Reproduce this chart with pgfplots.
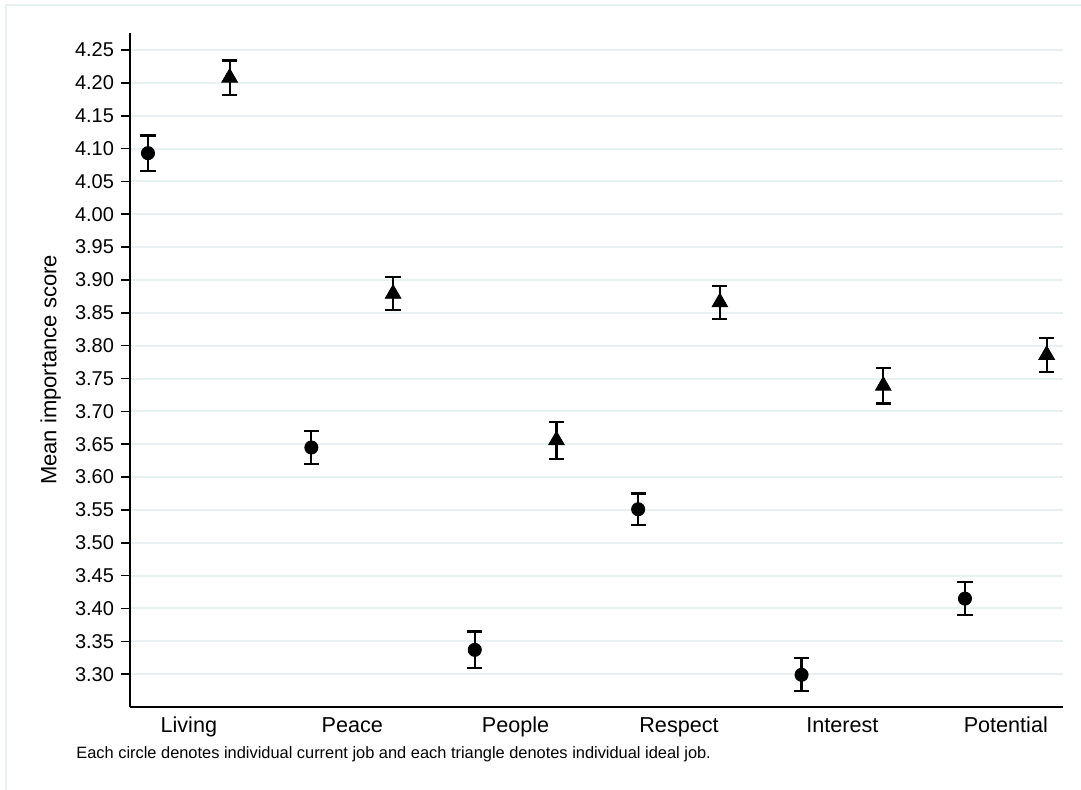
\documentclass[border=0pt]{standalone}
\usepackage{fontspec}
\setmainfont{Liberation Sans}
\usepackage{pgfplots}
\pgfplotsset{compat=1.18}
\definecolor{gridc}{RGB}{232,240,242}
\begin{document}
\begin{tikzpicture}
\useasboundingbox (0pt,0pt) rectangle (540.5pt,394.5pt);
\draw[gridc, line width=0.8pt] (3pt,-10pt) rectangle (560pt,392pt);
\begin{axis}[
  at={(65pt,41pt)}, anchor=south west,
  scale only axis, width=466.5pt, height=337pt,
  xmin=-0.360, xmax=5.350, ymin=3.25, ymax=4.2759,
  axis x line*=bottom, axis y line*=left,
  axis line style={line width=0.8pt, -},
  xtick={0,1,2,3,4,5},
  xticklabels={Living,Peace,People,Respect,Interest,Potential},
  x tick style={draw=none},
  xticklabel style={font=\fontsize{10.8}{12}\selectfont, anchor=north, inner ysep=0pt, text height=7.8pt, text depth=2.2pt, yshift=0pt},
  ytick={3.30,3.35,3.40,3.45,3.50,3.55,3.60,3.65,3.70,3.75,3.80,3.85,3.90,3.95,4.00,4.05,4.10,4.15,4.20,4.25},
  y tick style={line width=0.8pt, black},
  tick align=outside, major tick length=4.5pt,
  yticklabel style={font=\fontsize{10}{12}\selectfont, /pgf/number format/.cd, fixed, fixed zerofill, precision=2, assume math mode=true},
  ymajorgrids, grid style={gridc, line width=1pt},
  ylabel={Mean importance score},
  ylabel style={font=\fontsize{11}{13}\selectfont, at={(axis description cs:-0.085,0.5)}, anchor=center},
  clip=false,
]
\addplot[only marks, mark=*, black, mark size=3.3pt,
  error bars/.cd, y dir=both, y explicit,
  error bar style={line width=1.1pt, black},
  error mark options={black, line width=1.1pt, mark size=3.8pt, rotate=90}]
coordinates {
  (-0.25,4.093) +- (0,0.027)
  (0.75,3.645) +- (0,0.025)
  (1.75,3.337) +- (0,0.028)
  (2.75,3.551) +- (0,0.024)
  (3.75,3.299) +- (0,0.025)
  (4.75,3.415) +- (0,0.025)
};
\addplot[only marks, mark=triangle*, black, mark size=4.5pt,
  error bars/.cd, y dir=both, y explicit,
  error bar style={line width=1.1pt, black},
  error mark options={black, line width=1.1pt, mark size=3.8pt, rotate=90}]
coordinates {
  (0.25,4.208) +- (0,0.026)
  (1.25,3.879) +- (0,0.025)
  (2.25,3.656) +- (0,0.028)
  (3.25,3.866) +- (0,0.025)
  (4.25,3.739) +- (0,0.027)
  (5.25,3.786) +- (0,0.026)
};
\end{axis}
\node[anchor=base west, font=\fontsize{8.2}{10}\selectfont, inner sep=0pt] at (38pt,15.5pt) {Each circle denotes individual current job and each triangle denotes individual ideal job.};
\end{tikzpicture}
\end{document}
